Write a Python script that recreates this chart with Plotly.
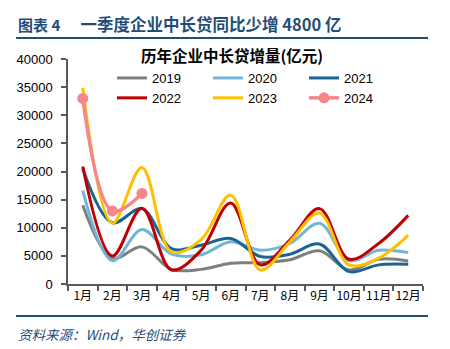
import plotly.graph_objects as go

months = ["1月", "2月", "3月", "4月", "5月", "6月", "7月", "8月", "9月", "10月", "11月", "12月"]
y2019 = [14000, 4600, 6600, 2600, 2600, 3700, 3800, 4300, 5900, 2500, 4400, 4100]
y2020 = [16600, 4150, 9700, 5300, 5200, 7500, 6000, 7200, 10800, 4150, 6000, 5600]
y2021 = [20500, 10900, 13400, 6300, 6900, 8100, 4900, 5300, 7100, 2200, 3400, 3500]
y2022 = [20900, 5000, 13450, 2500, 6000, 14400, 3400, 7800, 13400, 4400, 7200, 12200]
y2023 = [34900, 10800, 20700, 5700, 7900, 15800, 2500, 7500, 12600, 3400, 4600, 8700]
y2024 = [33000, 13000, 16100]

series = [
    ("2019", y2019, "#7F7F7F"),
    ("2020", y2020, "#72B6D6"),
    ("2021", y2021, "#1B6691"),
    ("2022", y2022, "#C00000"),
    ("2023", y2023, "#FFC000"),
]

fig = go.Figure()
for name, vals, col in series:
    fig.add_trace(go.Scatter(x=months[:len(vals)], y=vals, name=name, mode="lines",
                             line=dict(color=col, width=3, shape="spline", smoothing=1.0)))
fig.add_trace(go.Scatter(x=months[:len(y2024)], y=y2024, name="2024", mode="lines+markers",
                         line=dict(color="#F4868C", width=3.5, shape="spline", smoothing=1.0),
                         marker=dict(size=11, color="#F4868C")))

L, R, T, B = 68, 27, 59, 65
W, H = 450, 349
pw, ph = W - L - R, H - T - B

def px(x):
    return (x - L) / pw

def py(y):
    return (H - B - y) / ph

font_family = "Liberation Sans, Arial, Noto Sans CJK SC"
navy = "#1F4E79"

fig.update_layout(
    width=W, height=H,
    margin=dict(l=L, r=R, t=T, b=B),
    paper_bgcolor="white", plot_bgcolor="white",
    font=dict(family=font_family, size=12, color="black"),
    showlegend=True,
    legend=dict(orientation="h", x=px(112), y=py(63), xanchor="left", yanchor="top",
                entrywidth=51, entrywidthmode="pixels", font=dict(size=13),
                bgcolor="rgba(0,0,0,0)", tracegroupgap=0),
    xaxis=dict(type="category", showline=True, linecolor="#595959", linewidth=1.5,
               ticks="outside", ticklen=5, tickcolor="#595959", tickwidth=1.5,
               tickson="boundaries", showgrid=False, zeroline=False, tickangle=0,
               tickfont=dict(size=12, family="Noto Sans CJK SC"), range=[-0.5, 11.5]),
    yaxis=dict(range=[0, 40000], dtick=5000, showline=True, linecolor="#595959", linewidth=1.5,
               ticks="outside", ticklen=5, tickcolor="#595959", tickwidth=1.5,
               showgrid=False, zeroline=False, tickformat="d",
               tickfont=dict(size=13), ticklabelstandoff=6),
)

fig.add_annotation(text="<b><span style='font-size:15px'>图表 4</span>　 一季度企业中长贷同比少增 4800 亿</b>",
                   xref="paper", yref="paper",
                   x=px(16), y=py(24), xanchor="left", yanchor="middle", showarrow=False,
                   font=dict(size=16.5, color=navy, family="Noto Sans CJK SC"))
fig.add_annotation(text="<b>历年企业中长贷增量(亿元)</b>", xref="paper", yref="paper",
                   x=px(232), y=py(55), xanchor="center", yanchor="middle", showarrow=False,
                   font=dict(size=15.5, color="black", family="Noto Sans CJK SC"))
fig.add_annotation(text="<i>资料来源：Wind，华创证券</i>", xref="paper", yref="paper",
                   x=px(16), y=py(334), xanchor="left", yanchor="middle", showarrow=False,
                   font=dict(size=13.5, color=navy, family="Noto Sans CJK SC"))

fig.add_shape(type="line", xref="paper", yref="paper", x0=px(16), x1=px(428), y0=py(38), y1=py(38),
              line=dict(color=navy, width=2))
fig.add_shape(type="line", xref="paper", yref="paper", x0=px(16), x1=px(428), y0=py(316), y1=py(316),
              line=dict(color=navy, width=2))

fig.write_html("out.html")
